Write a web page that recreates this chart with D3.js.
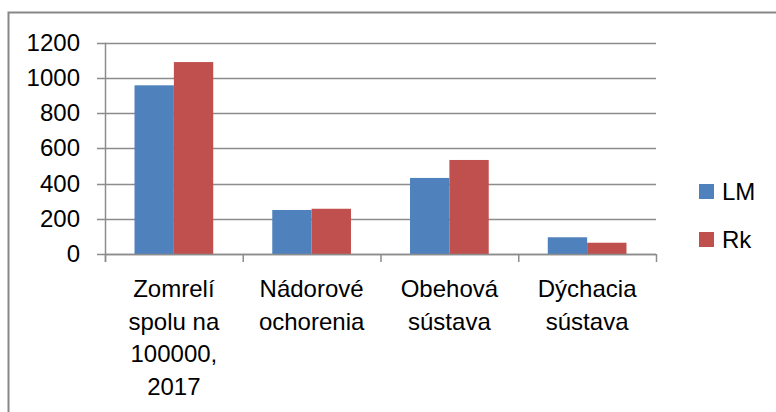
<!DOCTYPE html>
<html>
<head>
	<meta charset="utf-8">
	<title>Zomrelí</title>
	<style type="text/css">
		body { margin: 0; background: #fff; }
		text {
		 font-family: "Liberation Sans", Arial, sans-serif;
		 font-size: 24px;
		 fill: #000;
		}
	</style>
</head>
<body>
	<svg></svg>
	<script src="https://cdnjs.cloudflare.com/ajax/libs/d3/7.8.5/d3.min.js"></script>
	<script type="text/javascript">
		var categories = [
			['Zomrelí', 'spolu na', '100000,', '2017'],
			['Nádorové', 'ochorenia'],
			['Obehová', 'sústava'],
			['Dýchacia', 'sústava']
		];
		var seriesNames = ['LM', 'Rk'];
		var lmValues = [958, 250, 432, 95];
		var rkValues = [1090, 257, 534, 64];
		var yTicks = [0, 200, 400, 600, 800, 1000, 1200];

		var colors = ['#4f81bd', '#c0504d'];
		var width = 776, height = 412;
		var plotLeft = 105, plotRight = 656, plotTop = 42.7, plotBottom = 254;

		var svg = d3.select('svg')
			.attr('width', width)
			.attr('height', height);

		// outer chart frame (only top and left edges are in view)
		svg.append('path')
			.attr('d', 'M8.5,' + height + 'V12.5H' + width)
			.attr('fill', 'none')
			.attr('stroke', '#878787')
			.attr('stroke-width', 2);

		var idx = d3.range(categories.length);
		var x = d3.scaleBand().domain(idx).range([plotLeft, plotRight]);
		var barW = x.bandwidth() / 3.5;
		var y = d3.scaleLinear().domain([0, 1200]).range([plotBottom, plotTop]);

		// gridlines
		svg.append('g')
			.selectAll('line')
			.data(yTicks)
			.enter()
			.append('line')
			.attr('x1', plotLeft - 8)
			.attr('x2', plotRight)
			.attr('y1', function(d) { return Math.round(y(d)) + 0.5; })
			.attr('y2', function(d) { return Math.round(y(d)) + 0.5; })
			.attr('stroke', '#8c8c8c')
			.attr('stroke-width', 1.5);

		// bars
		var series = [lmValues, rkValues];
		series.forEach(function(values, s) {
			svg.append('g')
				.selectAll('rect')
				.data(values)
				.enter()
				.append('rect')
				.attr('x', function(d, i) { return x(i) + barW * 0.75 + s * barW; })
				.attr('y', function(d) { return y(d); })
				.attr('width', barW)
				.attr('height', function(d) { return y(0) - y(d); })
				.attr('fill', colors[s]);
		});

		// axis lines and ticks
		var axisColor = '#8c8c8c';
		svg.append('line')
			.attr('x1', plotLeft + 0.5).attr('x2', plotLeft + 0.5)
			.attr('y1', plotTop).attr('y2', plotBottom + 8)
			.attr('stroke', axisColor).attr('stroke-width', 1.5);
		svg.append('line')
			.attr('x1', plotLeft).attr('x2', plotRight)
			.attr('y1', Math.round(plotBottom) + 0.5).attr('y2', Math.round(plotBottom) + 0.5)
			.attr('stroke', axisColor).attr('stroke-width', 1.5);
		svg.append('g')
			.selectAll('line')
			.data(d3.range(categories.length + 1))
			.enter()
			.append('line')
			.attr('x1', function(d) { return plotLeft + d * x.step() + 0.5; })
			.attr('x2', function(d) { return plotLeft + d * x.step() + 0.5; })
			.attr('y1', plotBottom)
			.attr('y2', plotBottom + 8)
			.attr('stroke', axisColor)
			.attr('stroke-width', 1.5);

		// y labels
		svg.append('g')
			.selectAll('text')
			.data(yTicks)
			.enter()
			.append('text')
			.attr('x', 80)
			.attr('y', function(d) { return y(d) + 8; })
			.attr('text-anchor', 'end')
			.text(function(d) { return d; });

		// category labels
		var catText = svg.append('g')
			.selectAll('text')
			.data(categories)
			.enter()
			.append('text')
			.attr('text-anchor', 'middle');
		catText.selectAll('tspan')
			.data(function(d, i) { return d.map(function(t) { return { t: t, i: i }; }); })
			.enter()
			.append('tspan')
			.attr('x', function(d) { return x(d.i) + x.bandwidth() / 2; })
			.attr('y', function(d, j) { return 297 + j * 32.7; })
			.text(function(d) { return d.t; });

		// legend
		var legend = svg.append('g')
			.selectAll('g')
			.data(seriesNames)
			.enter()
			.append('g')
			.attr('transform', function(d, i) { return 'translate(699,' + (184 + i * 48) + ')'; });
		legend.append('rect')
			.attr('width', 15)
			.attr('height', 15)
			.attr('fill', function(d, i) { return colors[i]; });
		legend.append('text')
			.attr('x', 23)
			.attr('y', 16)
			.text(function(d) { return d; });
	</script>
</body>
</html>
